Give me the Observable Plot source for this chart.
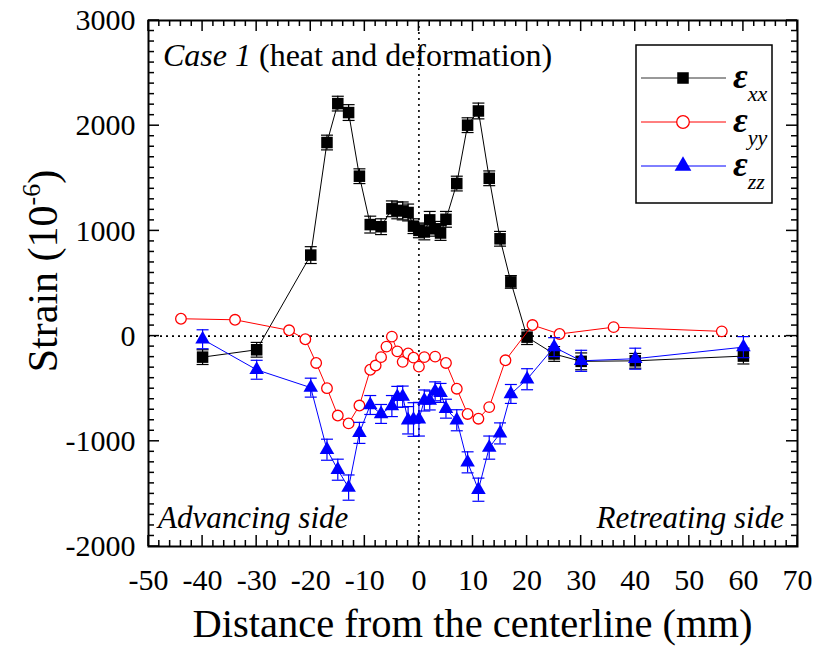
<!DOCTYPE html>
<html><head><meta charset="utf-8">
<script src="https://cdn.jsdelivr.net/npm/d3@7"></script>
<script src="https://cdn.jsdelivr.net/npm/@observablehq/plot@0.6"></script>
<style>body{margin:0;background:#fff}#chart svg{display:block}</style>
</head><body><div id="chart"></div>
<script>
// ---- data ----
const xxX = [-40,-30,-20,-17,-15,-13,-11,-9,-7,-5,-4,-3,-2,-1,0,1,2,3,4,5,7,9,11,13,15,17,20,25,30,40,60];
const xxY = [-200,-130,770,1840,2210,2125,1520,1060,1040,1210,1195,1190,1175,1045,1005,990,1105,1020,980,1110,1450,2005,2140,1500,925,515,-10,-170,-240,-235,-190];
const xxE = [70,70,80,70,70,75,70,80,75,75,80,85,80,70,70,75,80,70,70,75,70,70,75,70,70,60,70,70,80,70,75];

const yyX = [-44,-34,-24,-21,-19,-17,-15,-13,-11,-9,-8,-7,-6,-5,-4,-3,-2,-1,0,1,3,5,7,9,11,13,16,21,26,36,56];
const yyY = [165,155,55,-30,-255,-495,-755,-830,-660,-320,-280,-200,-100,-5,-145,-245,-165,-205,-290,-200,-195,-255,-500,-740,-785,-675,-230,105,20,85,45];
const yyE = [30,30,30,30,30,30,30,30,30,30,30,30,30,30,30,30,30,30,30,30,30,30,30,30,30,30,30,30,30,30,30];

const zzX = [-40,-30,-20,-17,-15,-13,-11,-9,-7,-5,-4,-3,-2,-1,0,1,2,3,4,5,7,9,11,13,15,17,20,25,30,40,60];
const zzY = [-30,-320,-490,-1080,-1270,-1440,-920,-655,-740,-665,-578,-575,-800,-793,-790,-612,-612,-525,-540,-690,-800,-1200,-1460,-1060,-925,-550,-410,-105,-235,-215,-105];
const zzE = [90,90,90,100,100,120,100,90,90,100,100,100,130,160,160,100,90,90,90,90,100,100,110,110,100,90,100,90,100,100,100];

const xTicks = [-50,-40,-30,-20,-10,0,10,20,30,40,50,60,70];
const yTicks = [-2000,-1000,0,1000,2000,3000];
const seriesNames = ["xx","yy","zz"];
const seriesColors = ["#000000","#ff0000","#0000ff"];

const toRows = (xs, ys, es) => xs.map((x,i)=>({x, y: ys[i], e: es[i]}));
const xx = toRows(xxX, xxY, xxE), yy = toRows(yyX, yyY, yyE), zz = toRows(zzX, zzY, zzE);

const cap = {draw(ctx){ ctx.moveTo(-6,0); ctx.lineTo(6,0); }};
const capSmall = {draw(ctx){ ctx.moveTo(-4,0); ctx.lineTo(4,0); }};

function errMarks(data, color, c){
  return [
    Plot.ruleX(data, {x:"x", y1: d=>d.y-d.e, y2: d=>d.y+d.e, stroke: color, strokeWidth: 1.2}),
    Plot.dot(data, {x:"x", y: d=>d.y+d.e, symbol: c, stroke: color, strokeWidth: 1.2, fill: "none"}),
    Plot.dot(data, {x:"x", y: d=>d.y-d.e, symbol: c, stroke: color, strokeWidth: 1.2, fill: "none"})
  ];
}

const serif = "'Liberation Serif','Times New Roman',serif";

const chart = Plot.plot({
  width: 819, height: 648,
  marginLeft: 148, marginRight: 22, marginTop: 20, marginBottom: 102,
  style: {fontFamily: serif, fontSize: "30px", background: "#fff", overflow: "visible"},
  x: {domain: [-50,70]},
  y: {domain: [-2000,3000]},
  marks: [
    Plot.ruleY([0], {stroke: "#000", strokeWidth: 1.6, strokeDasharray: "2,4"}),
    Plot.ruleX([0], {stroke: "#000", strokeWidth: 1.6, strokeDasharray: "2,4"}),
    ...errMarks(xx, seriesColors[0], cap),
    Plot.line(xx, {x:"x", y:"y", stroke: seriesColors[0], strokeWidth: 1}),
    Plot.dot(xx, {x:"x", y:"y", symbol: "square", r: 6.5, fill: seriesColors[0], stroke: "none"}),
    ...errMarks(yy, seriesColors[1], capSmall),
    Plot.line(yy, {x:"x", y:"y", stroke: seriesColors[1], strokeWidth: 1}),
    Plot.dot(yy, {x:"x", y:"y", symbol: "circle", r: 5.3, fill: "#fff", stroke: seriesColors[1], strokeWidth: 1.3}),
    ...errMarks(zz, seriesColors[2], cap),
    Plot.line(zz, {x:"x", y:"y", stroke: seriesColors[2], strokeWidth: 1}),
    Plot.dot(zz, {x:"x", y:"y", symbol: "triangle", r: 5.4, fill: seriesColors[2], stroke: "none"}),
    Plot.axisX({ticks: xTicks, tickSize: 0, tickPadding: 22, tickFormat: d => String(d), label: null, fontSize: 30}),
    Plot.axisY({ticks: yTicks, tickSize: 0, tickPadding: 13, tickFormat: d => String(d), label: null, fontSize: 30}),
    Plot.frame({stroke: "#000", strokeWidth: 2})
  ]
});
document.getElementById("chart").appendChild(chart);

// ---- ticks (inward on all four sides) ----
const sx = chart.scale("x"), sy = chart.scale("y");
const svg = d3.select(chart);
const X0 = sx.apply(-50), X1 = sx.apply(70), Y0 = sy.apply(-2000), Y1 = sy.apply(3000);
const g = svg.append("g").attr("stroke", "#000").attr("stroke-width", 1.5);
d3.range(-50, 70.001, 2).forEach(v => {
  const px = sx.apply(v), L = (v % 10 === 0) ? 11 : 6;
  g.append("line").attr("x1", px).attr("x2", px).attr("y1", Y0).attr("y2", Y0 - L);
  g.append("line").attr("x1", px).attr("x2", px).attr("y1", Y1).attr("y2", Y1 + L);
});
d3.range(-2000, 3000.001, 100).forEach(v => {
  const py = sy.apply(v), L = (v % 1000 === 0) ? 11 : 6;
  g.append("line").attr("y1", py).attr("y2", py).attr("x1", X0).attr("x2", X0 + L);
  g.append("line").attr("y1", py).attr("y2", py).attr("x1", X1).attr("x2", X1 - L);
});

// ---- texts ----
const t = svg.append("g").attr("font-family", serif).attr("fill", "#000").attr("text-anchor", "start");
const title = t.append("text").attr("x", X0 + 15).attr("y", 66).attr("font-size", 32).attr("text-anchor", "start");
title.append("tspan").attr("font-style", "italic").text("Case 1");
title.append("tspan").text(" (heat and deformation)");

t.append("text").attr("x", X0 + 10).attr("y", 528).attr("font-size", 31).attr("font-style", "italic").attr("text-anchor", "start").text("Advancing side");
t.append("text").attr("x", X1 - 13).attr("y", 528).attr("font-size", 31).attr("font-style", "italic").attr("text-anchor", "end").text("Retreating side");

t.append("text").attr("x", (X0 + X1) / 2).attr("y", 637).attr("font-size", 40.5).attr("text-anchor", "middle").text("Distance from the centerline (mm)");

const yl = t.append("text").attr("transform", `translate(57,271) rotate(-90)`).attr("font-size", 42).attr("text-anchor", "middle");
yl.append("tspan").text("Strain (10");
yl.append("tspan").attr("font-size", 26).attr("dy", -17).text("-6");
yl.append("tspan").attr("dy", 17).text(")");

// ---- legend ----
const lg = svg.append("g");
lg.append("rect").attr("x", 636).attr("y", 45).attr("width", 136).attr("height", 158).attr("fill", "#fff").attr("stroke", "#000").attr("stroke-width", 1.5);
const rowY = [78, 122, 166];
const symTypes = [d3.symbolSquare, d3.symbolCircle, d3.symbolTriangle];
seriesNames.forEach((name, i) => {
  const y = rowY[i], col = seriesColors[i];
  lg.append("line").attr("x1", 641).attr("x2", 726).attr("y1", y).attr("y2", y).attr("stroke", i === 0 ? "#333" : col).attr("stroke-width", 1);
  const path = d3.symbol(symTypes[i], i === 0 ? Math.PI * 6.5 * 6.5 : i === 1 ? Math.PI * 6.3 * 6.3 : Math.PI * 6.2 * 6.2)();
  lg.append("path").attr("d", path).attr("transform", `translate(683,${y})`)
    .attr("fill", i === 1 ? "#fff" : col).attr("stroke", i === 1 ? col : "none").attr("stroke-width", 1.3);
  const tx = lg.append("text").attr("x", 733).attr("y", y + 10).attr("font-family", serif).attr("fill", "#000").attr("text-anchor", "start");
  tx.append("tspan").attr("font-size", 36).attr("font-weight", "bold").attr("font-style", "italic").text("ε");
  tx.append("tspan").attr("font-size", 22).attr("font-style", "italic").attr("dy", 13).text(name);
});
</script>
</body></html>
